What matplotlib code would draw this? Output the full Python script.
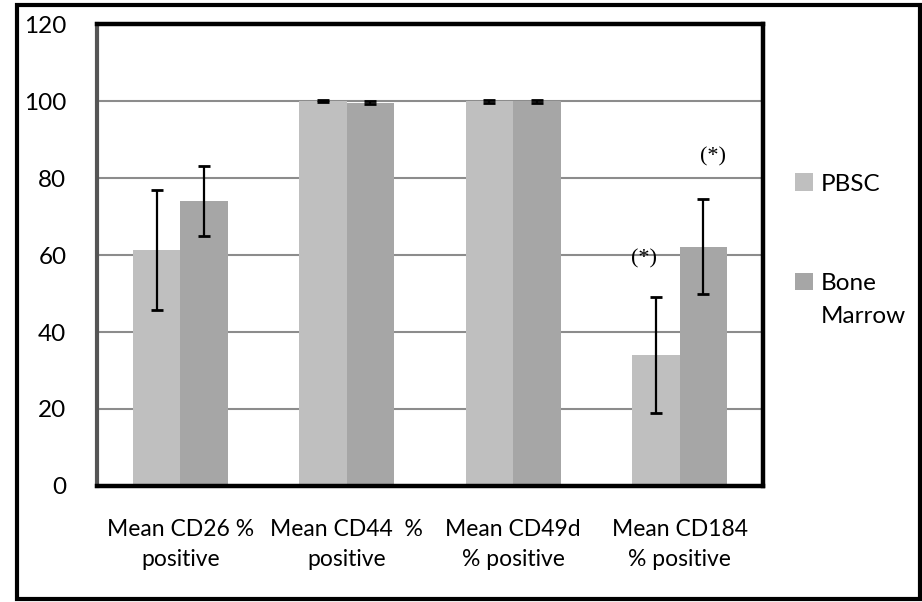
import matplotlib.pyplot as plt
import matplotlib.patches as patches
import numpy as np

# values
categories = ['Mean CD26 %\npositive', 'Mean CD44  %\npositive',
              'Mean CD49d\n% positive', 'Mean CD184\n% positive']
pbsc = [61.3, 100.0, 99.9, 34.0]
pbsc_err = [15.7, 0.15, 0.3, 15.0]
marrow = [74.0, 99.6, 99.9, 62.2]
marrow_err = [9.0, 0.4, 0.3, 12.3]
yticks = [0, 20, 40, 60, 80, 100, 120]

fig = plt.figure(figsize=(9.22, 6.02), dpi=100)
ax = fig.add_axes([0.1052, 0.1927, 0.7223, 0.7674])

x = np.arange(len(categories))
w = 0.285
err_kw = dict(ecolor='black', elinewidth=1.6, capsize=4, capthick=2)
b1 = ax.bar(x - w / 2, pbsc, w, color='#bfbfbf', yerr=pbsc_err,
            error_kw=err_kw, label='PBSC', zorder=2)
b2 = ax.bar(x + w / 2, marrow, w, color='#a6a6a6', yerr=marrow_err,
            error_kw=err_kw, label='Bone', zorder=2)

ax.set_xlim(-0.5, len(categories) - 0.5)
ax.set_ylim(0, 120)
ax.set_yticks(yticks)
ax.set_yticklabels([str(t) for t in yticks], fontsize=17.5, family='Lato')
ax.set_xticks(x)
ax.set_xticklabels(categories, fontsize=16.5, family='Lato', linespacing=1.5)
ax.tick_params(axis='both', length=0)
ax.tick_params(axis='y', pad=22)
ax.tick_params(axis='x', pad=24)
ax.yaxis.grid(True, color='#8c8c8c', linewidth=1.5, zorder=0)
ax.set_axisbelow(True)

for side in ['top', 'right', 'bottom']:
    ax.spines[side].set_linewidth(3.2)
    ax.spines[side].set_color('black')
ax.spines['left'].set_linewidth(3)
ax.spines['left'].set_color('#555555')

# significance markers
ax.text(3 - w / 2 - 0.07, 59, '(*)', family='Liberation Serif', fontsize=16,
        ha='center', va='center')
ax.text(3 + w / 2 + 0.06, 85.5, '(*)', family='Liberation Serif', fontsize=16,
        ha='center', va='center')

leg = fig.legend(handles=[b1, b2], labels=['PBSC', 'Bone'],
                 loc='upper left', bbox_to_anchor=(0.862, 0.712),
                 frameon=False, prop={'family': 'Lato', 'size': 17.5},
                 handlelength=0.75, handleheight=0.75, handletextpad=0.3,
                 labelspacing=3.2, borderpad=0, borderaxespad=0)
fig.canvas.draw()
bone_txt = leg.get_texts()[1]
bb = bone_txt.get_window_extent().transformed(fig.transFigure.inverted())
fig.text(bb.x0, bb.y0 - 0.02, 'Marrow', family='Lato', fontsize=17.5,
         ha='left', va='top')

# outer frame around the whole chart
frame = patches.Rectangle((17 / 922, 3 / 602), 903 / 922, 594 / 602,
                          transform=fig.transFigure, fill=False,
                          edgecolor='black', linewidth=3)
fig.patches.append(frame)

fig.savefig('out.png', dpi=100)
